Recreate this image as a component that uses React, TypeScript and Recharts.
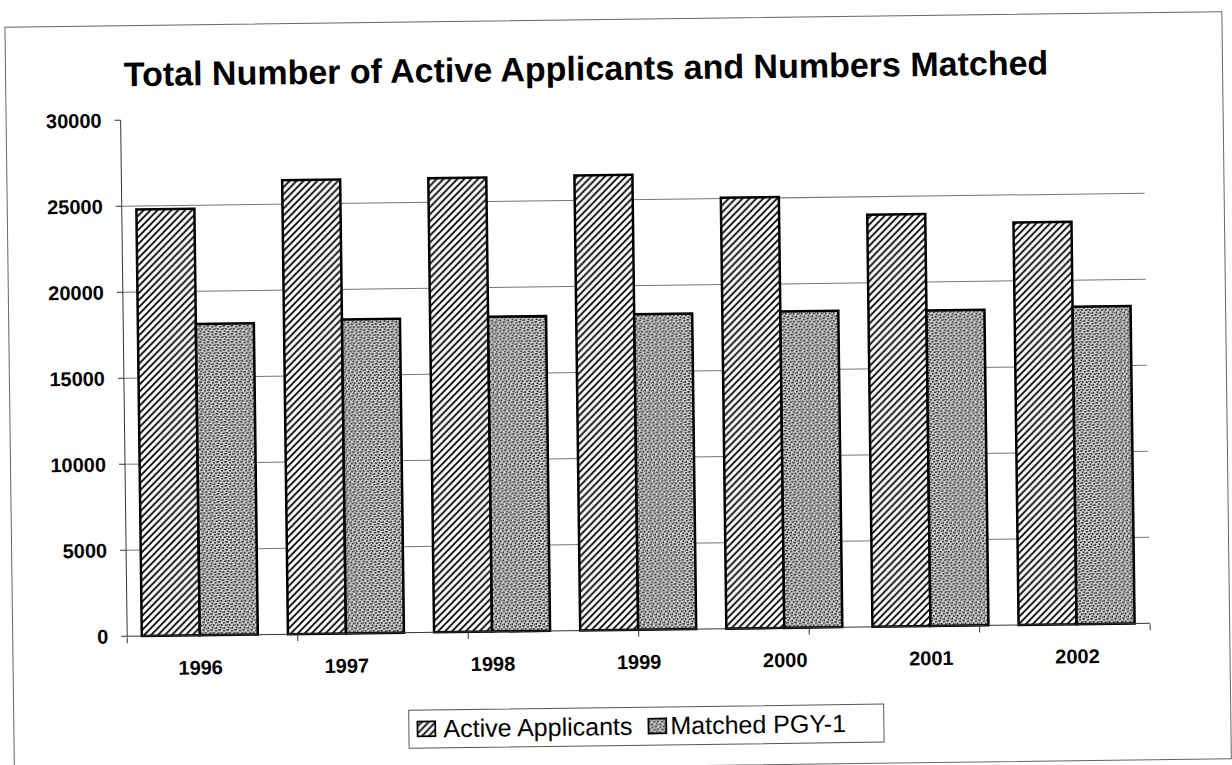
import { BarChart, Bar, XAxis, YAxis, CartesianGrid } from "recharts";

const years = ["1996", "1997", "1998", "1999", "2000", "2001", "2002"];
const activeApplicants = [24800, 26400, 26400, 26450, 25050, 23950, 23400];
const matchedPGY1 = [18100, 18250, 18300, 18350, 18400, 18350, 18450];
const yTicks = [0, 5000, 10000, 15000, 20000, 25000, 30000];
const seriesNames = ["Active Applicants", "Matched PGY-1"];
const title = "Total Number of Active Applicants and Numbers Matched";

const data = years.map((year, i) => ({
    year,
    active: activeApplicants[i],
    matched: matchedPGY1[i],
}));

// boundaries between categories, for the Excel-style tick marks
const edgeTicks = [...years.map((_, i) => i), years.length];

const font = '"Liberation Sans", Arial, sans-serif';

function Patterns() {
    return (
        <svg width={0} height={0} style={{ position: "absolute" }}>
            <defs>
                <pattern id="hatch" width={7} height={7} patternUnits="userSpaceOnUse">
                    <rect width={7} height={7} fill="#fff" />
                    <path d="M-1,1 l2,-2 M0,7 l7,-7 M6,8 l2,-2" stroke="#000" strokeWidth={1.8} />
                </pattern>
                <pattern id="stipple" width={8} height={8} patternUnits="userSpaceOnUse">
                    <rect width={8} height={8} fill="#d2d2d2" />
                    <rect x={0} y={0} width={1.8} height={1.5} fill="#1a1a1a" />
                    <rect x={4} y={1} width={1.8} height={1.5} fill="#1a1a1a" />
                    <rect x={2} y={3} width={1.5} height={1.8} fill="#1a1a1a" />
                    <rect x={6} y={3.5} width={1.8} height={1.5} fill="#1a1a1a" />
                    <rect x={0.5} y={5.5} width={1.8} height={1.5} fill="#1a1a1a" />
                    <rect x={4.5} y={6} width={1.5} height={1.8} fill="#1a1a1a" />
                    <rect x={2.8} y={6.8} width={1.3} height={1.2} fill="#333" />
                    <rect x={6.8} y={0.3} width={1.2} height={1.3} fill="#333" />
                    <rect x={0.2} y={2.8} width={1.2} height={1.2} fill="#333" />
                    <rect x={5} y={4.5} width={0.8} height={0.8} fill="#555" />
                </pattern>
            </defs>
        </svg>
    );
}

function LegendBox() {
    const fills = ["url(#hatch)", "url(#stipple)"];
    return (
        <div
            style={{
                position: "absolute",
                left: 404,
                top: 707,
                width: 476,
                height: 39,
                border: "1px solid #555",
                background: "#fff",
                display: "flex",
                alignItems: "center",
                paddingLeft: 7,
                boxSizing: "border-box",
                fontFamily: font,
                fontSize: 25,
                color: "#000",
                whiteSpace: "nowrap",
            }}
        >
            {seriesNames.map((name, i) => (
                <div key={name} style={{ display: "flex", alignItems: "center", marginRight: 15 }}>
                    <svg width={20} height={17} style={{ marginRight: i === 0 ? 7 : 3 }}>
                        <rect x={1} y={1} width={18} height={15} fill={fills[i]} stroke="#000" strokeWidth={2} />
                    </svg>
                    <span>{name}</span>
                </div>
            ))}
        </div>
    );
}

export default function App() {
    return (
        <div
            style={{
                position: "absolute",
                left: 0,
                top: 0,
                width: 1232,
                height: 765,
                background: "#fff",
                transform: "rotate(-0.73deg)",
                transformOrigin: "616px 382px",
                fontFamily: font,
            }}
        >
            <Patterns />

            {/* frame */}
            <div
                style={{
                    position: "absolute",
                    left: 9,
                    top: 19,
                    width: 1218,
                    height: 748,
                    border: "1px solid #666",
                    boxSizing: "border-box",
                }}
            />

            {/* title */}
            <div
                style={{
                    position: "absolute",
                    left: 0,
                    top: 49,
                    width: 1180,
                    textAlign: "center",
                    fontSize: 34,
                    fontWeight: "bold",
                    color: "#000",
                    lineHeight: "normal",
                }}
            >
                {title}
            </div>

            <div style={{ position: "absolute", left: 0, top: 0 }}>
                <BarChart
                    width={1232}
                    height={765}
                    data={data}
                    margin={{ top: 114, right: 85, left: 0, bottom: 133 }}
                    barCategoryGap="10%"
                    barGap={0}
                >
                    <CartesianGrid
                        vertical={false}
                        stroke="#777"
                        horizontalValues={yTicks.slice(1, -1)}
                    />
                    <XAxis
                        dataKey="year"
                        height={1}
                        axisLine={{ stroke: "#333" }}
                        tickLine={false}
                        tickSize={0}
                        tickMargin={25}
                        tick={{ fill: "#000", fontSize: 20, fontWeight: "bold", fontFamily: font }}
                    />
                    <XAxis
                        xAxisId="edges"
                        type="number"
                        domain={[0, years.length]}
                        ticks={edgeTicks}
                        tickFormatter={() => ""}
                        height={1}
                        axisLine={false}
                        tickLine={{ stroke: "#333" }}
                        tickSize={6}
                        allowDataOverflow
                    />
                    <YAxis
                        width={124}
                        domain={[0, 30000]}
                        ticks={yTicks}
                        axisLine={{ stroke: "#333" }}
                        tickLine={{ stroke: "#333" }}
                        tickSize={6}
                        tickMargin={13}
                        tick={{ fill: "#000", fontSize: 20, fontWeight: "bold", fontFamily: font }}
                    />
                    <Bar
                        dataKey="active"
                        name={seriesNames[0]}
                        fill="url(#hatch)"
                        stroke="#000"
                        strokeWidth={2.5}
                        isAnimationActive={false}
                    />
                    <Bar
                        dataKey="matched"
                        name={seriesNames[1]}
                        fill="url(#stipple)"
                        stroke="#000"
                        strokeWidth={2.5}
                        isAnimationActive={false}
                    />
                </BarChart>
            </div>

            <LegendBox />
        </div>
    );
}
